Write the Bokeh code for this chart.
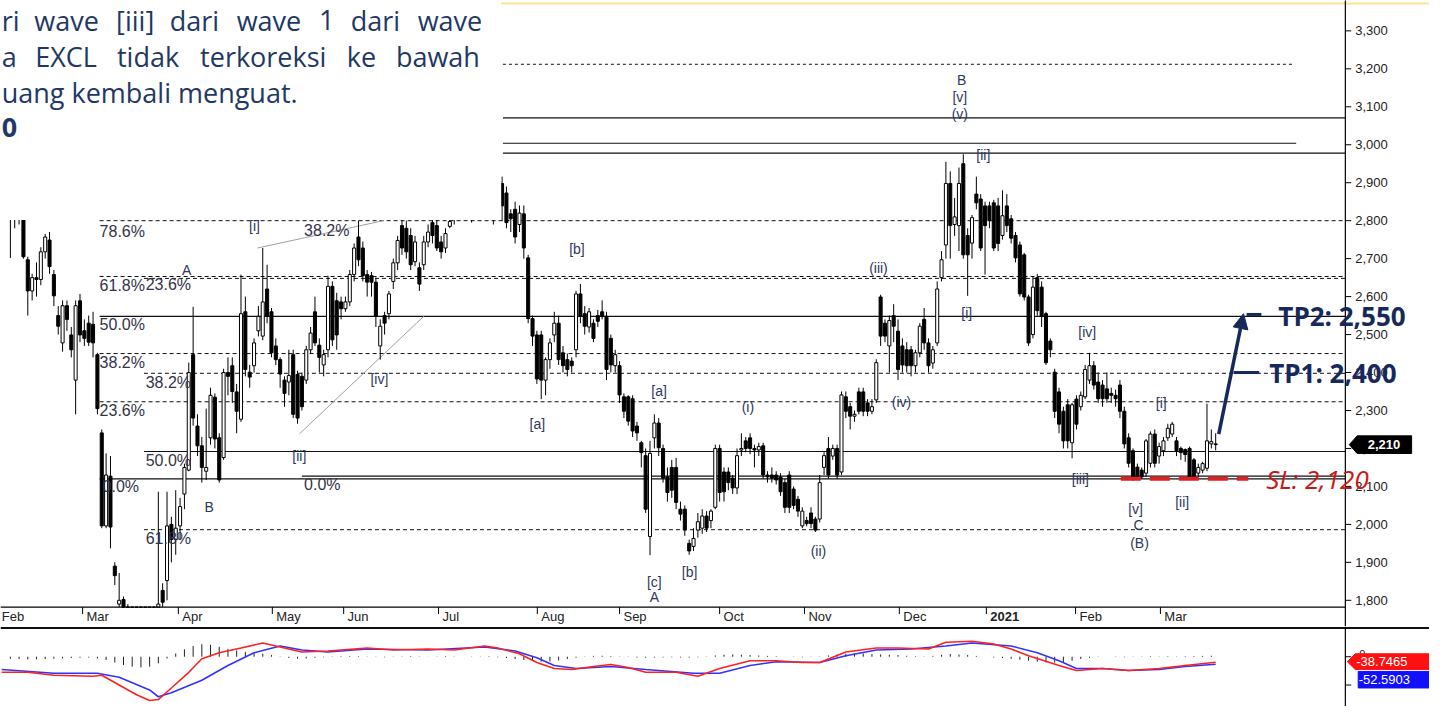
from bokeh.plotting import figure
from bokeh.layouts import column
from bokeh.models import Range1d, Arrow, NormalHead, ColumnDataSource
from bokeh.core.properties import value
from bokeh.embed import file_html
from bokeh.resources import INLINE

# ---------------- DATA (EXCL daily, Feb 2020 - Mar 2021) ----------------
opens = [2880,2860,2850,2900,2697,2615,2650,2645,2718,2749,
 2658,2550,2478,2576,2499,2380,2589,2510,2530,2527,
 2447,2241,1996,2127,1890,1790,1802,1770,1700,1620,
 1680,1620,1560,1680,1700,1826,1852,2000,1960,1996,
 2080,2143,2447,2259,2207,2140,2228,2335,2228,2176,
 2400,2418,2349,2277,2560,2401,2418,2510,2496,2620,
 2560,2470,2434,2380,2375,2447,2395,2390,2380,2460,
 2560,2472,2420,2460,2627,2589,2586,2568,2586,2658,
 2757,2728,2658,2655,2638,2470,2550,2555,2640,2689,
 2787,2780,2761,2692,2676,2684,2744,2795,2787,2744,
 2728,2785,2830,2860,2880,2930,2900,2840,2880,2980,
 3000,2950,2850,2898,2873,2818,2830,2790,2818,2702,
 2542,2499,2499,2380,2434,2499,2530,2452,2434,2430,
 2460,2607,2555,2520,2530,2550,2560,2548,2490,2418,
 2418,2336,2336,2331,2259,2215,2181,1968,2228,2267,
 2200,2125,2150,2150,2040,2040,1950,1942,1985,1990,
 2022,2010,2045,2200,2138,2138,2122,2096,2196,2220,
 2228,2200,2196,2207,2130,2130,2130,2125,2110,2130,
 2093,2066,1996,2010,2030,2014,2014,2150,2200,2180,
 2200,2138,2336,2310,2285,2349,2349,2320,2298,2328,
 2599,2530,2470,2550,2509,2470,2460,2460,2418,2452,
 2540,2478,2425,2478,2650,2736,2898,2790,2787,2950,
 2761,2741,2870,2857,2839,2839,2847,2839,2761,2839,
 2805,2761,2736,2710,2599,2500,2650,2625,2555,2483,
 2401,2349,2298,2315,2215,2330,2310,2336,2380,2418,
 2375,2367,2357,2345,2340,2367,2298,2228,2194,2151,
 2143,2135,2161,2238,2180,2194,2228,2238,2220,2200,
 2197,2200,2170,2135,2143,2148,2212,2212]
highs = [2930,2900,2880,2920,2705,2660,2690,2730,2765,2770,
 2670,2575,2590,2590,2520,2590,2607,2540,2550,2560,
 2452,2250,2187,2180,1900,1872,1810,1790,1720,1700,
 1720,1650,1700,1760,2086,1845,2086,2020,2090,2070,
 2160,2426,2573,2290,2230,2305,2360,2345,2240,2410,
 2440,2440,2370,2658,2600,2420,2490,2575,2728,2684,
 2570,2490,2440,2390,2460,2460,2405,2400,2470,2520,
 2600,2490,2460,2655,2640,2610,2600,2600,2670,2740,
 2800,2745,2670,2665,2650,2540,2560,2615,2700,2760,
 2820,2800,2780,2760,2690,2760,2790,2830,2810,2760,
 2780,2830,2880,2900,2950,2980,2920,2900,3000,3050,
 3040,2960,2920,2916,2890,2830,2850,2840,2840,2710,
 2550,2510,2510,2440,2490,2560,2550,2470,2450,2440,
 2615,2633,2575,2570,2540,2565,2590,2560,2500,2460,
 2430,2345,2340,2340,2270,2220,2200,2220,2290,2280,
 2210,2150,2170,2175,2060,2050,1960,1990,2030,2040,
 2035,2040,2210,2210,2150,2150,2130,2200,2240,2230,
 2240,2210,2215,2215,2140,2150,2140,2135,2120,2140,
 2100,2075,2045,2020,2045,2020,2130,2190,2230,2210,
 2210,2350,2350,2320,2300,2360,2360,2330,2330,2435,
 2605,2540,2550,2580,2540,2490,2480,2470,2460,2530,
 2570,2490,2470,2640,2720,2955,2930,2860,2940,2975,
 2780,2815,2916,2870,2850,2850,2855,2860,2880,2870,
 2815,2770,2745,2715,2605,2653,2660,2640,2560,2490,
 2410,2360,2310,2330,2320,2340,2350,2420,2452,2430,
 2400,2380,2400,2360,2355,2380,2310,2240,2200,2160,
 2150,2225,2245,2250,2215,2230,2265,2270,2230,2205,
 2200,2205,2175,2160,2165,2318,2250,2240]
lows = [2702,2780,2790,2700,2550,2590,2600,2630,2700,2660,
 2575,2500,2455,2510,2440,2290,2480,2470,2470,2440,
 2290,1990,1990,1937,1840,1770,1700,1680,1600,1560,
 1600,1520,1550,1640,1690,1770,1800,1900,1920,1960,
 2040,2140,2260,2180,2110,2117,2210,2200,2110,2170,
 2340,2320,2240,2270,2390,2360,2400,2495,2485,2530,
 2440,2420,2360,2310,2340,2280,2265,2300,2370,2450,
 2470,2400,2390,2440,2470,2460,2540,2560,2575,2640,
 2680,2640,2600,2600,2520,2434,2500,2540,2620,2670,
 2710,2700,2670,2680,2615,2670,2730,2740,2720,2700,
 2715,2780,2790,2820,2850,2880,2795,2820,2860,2940,
 2930,2790,2830,2800,2780,2770,2740,2770,2700,2530,
 2470,2370,2330,2340,2410,2480,2420,2400,2390,2400,
 2440,2530,2500,2505,2480,2520,2540,2380,2400,2400,
 2320,2280,2260,2230,2220,2150,2030,1919,2200,2180,
 2110,2060,2070,2040,2010,1970,1920,1930,1965,1975,
 1980,1990,2040,2060,2060,2090,2080,2080,2180,2190,
 2185,2150,2180,2120,2110,2110,2105,2075,2030,2030,
 2040,2020,1990,1995,1990,1980,2005,2130,2120,2170,
 2120,2130,2280,2250,2270,2290,2285,2285,2290,2320,
 2470,2480,2400,2480,2380,2400,2400,2390,2400,2440,
 2460,2400,2410,2470,2640,2700,2700,2760,2720,2700,
 2602,2700,2830,2720,2658,2780,2720,2720,2750,2770,
 2740,2690,2600,2590,2470,2490,2550,2520,2420,2440,
 2280,2240,2200,2200,2174,2250,2300,2330,2370,2355,
 2320,2310,2320,2320,2310,2280,2200,2150,2115,2120,
 2120,2125,2150,2150,2160,2180,2220,2230,2180,2170,
 2165,2120,2120,2125,2135,2140,2200,2195]
closes = [2850,2830,2820,2705,2615,2650,2645,2718,2757,2679,
 2602,2522,2576,2540,2460,2576,2499,2490,2480,2478,
 2305,1996,2130,1993,1865,1800,1775,1700,1620,1680,
 1620,1560,1680,1700,1790,1795,1996,1960,1990,2047,
 2150,2400,2280,2207,2150,2150,2340,2225,2117,2400,
 2390,2350,2298,2555,2408,2388,2478,2548,2586,2548,
 2452,2434,2396,2345,2392,2290,2280,2310,2460,2504,
 2478,2440,2447,2627,2486,2499,2568,2586,2658,2728,
 2697,2655,2638,2638,2548,2522,2530,2607,2689,2748,
 2728,2718,2684,2744,2633,2744,2770,2761,2728,2718,
 2766,2798,2860,2880,2930,2900,2840,2880,2980,3000,
 2950,2850,2880,2839,2795,2805,2757,2820,2728,2542,
 2496,2383,2380,2434,2478,2530,2434,2418,2408,2418,
 2607,2548,2522,2560,2490,2535,2548,2408,2420,2447,
 2341,2298,2272,2246,2241,2189,2040,2187,2267,2202,
 2122,2084,2090,2058,2027,1985,1930,1963,2007,2022,
 1990,2035,2200,2084,2086,2110,2096,2181,2200,2200,
 2200,2196,2205,2130,2125,2122,2117,2086,2045,2045,
 2050,2035,2035,2002,2002,1985,2110,2181,2130,2200,
 2130,2341,2298,2285,2290,2298,2298,2298,2310,2426,
 2496,2496,2537,2522,2408,2420,2418,2418,2452,2522,
 2478,2418,2460,2620,2697,2898,2787,2810,2898,2710,
 2710,2808,2847,2728,2787,2800,2728,2740,2813,2787,
 2754,2702,2607,2599,2478,2625,2563,2548,2426,2460,
 2298,2264,2220,2220,2315,2264,2340,2408,2418,2367,
 2331,2331,2331,2340,2331,2298,2212,2161,2125,2125,
 2125,2220,2238,2161,2205,2220,2253,2264,2194,2189,
 2184,2125,2125,2150,2160,2220,2218,2210]

# month ticks (trading-day index where each month begins) and labels
month_ticks = [-3.9, 16.6, 38.6, 60.2, 76.6, 98.4, 121.1, 140.0, 163.0, 182.5, 204.3, 224.3, 244.8, 264.3]
month_labels = ["Feb", "Mar", "Apr", "May", "Jun", "Jul", "Aug", "Sep", "Oct", "Nov", "Dec", "2021", "Feb", "Mar"]
price_ticks = list(range(1800, 3301, 100))

# MACD (red) and signal (blue)
macd_idx = [-2,4,10,19,21,25,29,32,34,37,41,44,48,53,58,60,67,73,82,88,96,102,109,112,117,121,125,129,
            134,138,142,146,153,158,163,170,176,182,186,192,199,204,211,215,221,226,230,234,241,245,251,257,264,270,277]
macd_vals = [-110,-110,-131,-138,-131,-200,-269,-310,-303,-221,-110,-14,28,62,97,83,34,41,62,48,55,48,76,62,21,-41,-83,-90,
             -69,-55,-76,-110,-110,-138,-83,-28,-28,-41,-41,34,62,62,55,103,110,90,55,7,-62,-97,-83,-97,-83,-62,-39]
signal_idx = [-2,10,20,25,32,34,37,44,50,56,62,67,73,82,96,109,116,121,125,130,138,146,157,163,170,176,186,
              192,199,207,215,221,230,236,241,245,251,257,264,270,277]
signal_vals = [-90,-117,-117,-145,-235,-283,-255,-166,-62,28,76,48,34,55,48,69,41,-7,-62,-83,-69,-90,-117,-117,-62,-35,-41,
               7,48,55,76,97,76,28,-28,-83,-83,-97,-90,-69,-53]
hist_vals = [-14,-16,-19,-18,-16,-14,-12,-9,-7,-6,
             -12,-23,-41,-59,-70,-76,-70,-47,
             -12,23,53,76,89,84,70,56,44,35,26,
             21,12,2,-9,-14,-12,-7,
             -4,2,4,5,4,2,-2,-4,-2,2,4,2,1,2,4,2,0,-2,2,4,
             -4,-9,-16,-23,-30,-35,-33,-26,-16,-7,
             2,6,7,5,2,-2,-6,-7,-6,-5,-4,-5,-6,-4,2,
             9,14,16,14,12,9,6,4,0,-2,-4,-2,
             2,9,16,21,23,23,19,16,14,12,7,4,2,6,14,
             19,16,12,6,0,-5,-9,-14,
             -21,-28,-35,-40,-42,-37,-28,-16,-7,-2,
             0,-2,-4,-2,2,4,2,4,2,4,5,6,7]
hist_idx = list(range(0, 2 * len(hist_vals), 2))

# horizontal levels (fibonacci / support-resistance)
solid_levels = [3071, 3004, 2978, 2548, 2192, 2127, 2120]
solid_from = [113.2, 113.2, 113.2, 20.5, 30.7, 67.0, 20.5]
solid_to = [306.8, 295.5, 306.8, 306.8, 306.8, 306.8, 306.8]
dashed_levels = [2800, 2653, 2648, 2450, 2398, 2323, 1986]
dashed_from = [20.5, 20.5, 30.7, 20.5, 30.7, 20.5, 30.7]
dotted_level = 3212

fib_text = ["78.6%", "61.8%", "50.0%", "38.2%", "23.6%", "0.0%", "23.6%", "38.2%", "50.0%", "61.8%", "38.2%", "0.0%"]
fib_x = [20.5, 20.5, 20.5, 20.5, 20.5, 21.2, 31.1, 31.1, 31.1, 31.1, 67.5, 67.5]
fib_y = [2772, 2630, 2527, 2426, 2300, 2099, 2633, 2375, 2169, 1963, 2774, 2104]

wave_text = ["[i]", "A", "B", "[ii]", "[iv]", "[b]", "[a]", "[a]", "[c]", "A", "[b]", "(i)", "(ii)", "(iii)", "(iv)",
             "[i]", "[ii]", "B", "[v]", "(v)", "[iv]", "[iii]", "[v]", "C", "(B)", "[i]", "[ii]"]
wave_x = [56.1, 40.5, 45.7, 66.4, 84.8, 130.2, 121.1, 149.1, 148.0, 148.0, 156.1, 169.5, 185.7, 199.5, 204.8,
          219.8, 223.6, 218.6, 218.2, 218.2, 247.5, 245.9, 258.6, 259.3, 259.5, 264.5, 269.3]
wave_y = [2787, 2669, 2045, 2179, 2383, 2725, 2264, 2352, 1849, 1808, 1875, 2310, 1929, 2676, 2323,
          2558, 2973, 3171, 3125, 3081, 2506, 2120, 2040, 1999, 1952, 2321, 2060]

last_price = 2210
tp1, tp2, sl = 2400, 2550, 2120
macd_last, signal_last = -38.7465, -52.5903

# ---------------- STYLE / GEOMETRY ----------------
FONT = "Liberation Sans"
NAVY = "#16295a"
TXT = "#1f3864"
X0, X1 = -2.27, 326.14      # canvas left / right in trading-day units
AX = 306.8                  # right price axis position
PX = 4.4                    # pixels per trading day (reference)
PY = 2.577                  # price units per pixel (reference)
Y_BOT = 1782                # price at the bottom of the price frame

xr = Range1d(X0, X1)
p = figure(width=1429, height=626, x_range=xr, y_range=Range1d(1731, 3380),
           output_backend="svg", toolbar_location=None, x_axis_location=None, y_axis_location=None,
           min_border=0, min_border_left=0, min_border_right=0, min_border_top=0, min_border_bottom=0)
p.grid.visible = False
p.outline_line_color = None
p.background_fill_color = "white"

# level lines
p.segment(x0=solid_from, y0=solid_levels, x1=solid_to, y1=solid_levels, line_color="#111111", line_width=1.2)
p.segment(x0=dashed_from, y0=dashed_levels, x1=[AX] * len(dashed_levels), y1=dashed_levels,
          line_color="#111111", line_width=1, line_dash="4 3")
p.segment(x0=[113.2], y0=[dotted_level], x1=[294.8], y1=[dotted_level], line_color="#111111",
          line_width=1, line_dash="3 3")

# trend lines
p.line([56.8, 85.7], [2728, 2800], line_color="#a0a0a0", line_width=1)
p.line([66.4, 95.0], [2238, 2548], line_color="#a0a0a0", line_width=1)

# candles (clipped at the bottom of the price frame)
idx = list(range(len(closes)))
lo_c = [max(v, Y_BOT) for v in lows]
hi_c = [max(v, Y_BOT) for v in highs]
p.segment(x0=idx, y0=hi_c, x1=idx, y1=lo_c, line_color="black", line_width=1)
def body(cond):
    sel = [i for i in idx if cond(i)]
    return ColumnDataSource(dict(
        x=sel,
        top=[max(max(opens[i], closes[i]), Y_BOT) for i in sel],
        bottom=[max(min(opens[i], closes[i]), Y_BOT) for i in sel]))
p.vbar(x="x", top="top", bottom="bottom", width=0.7, source=body(lambda i: closes[i] >= opens[i]),
       fill_color="white", line_color="black", line_width=1)
p.vbar(x="x", top="top", bottom="bottom", width=0.7, source=body(lambda i: closes[i] < opens[i]),
       fill_color="black", line_color="black", line_width=1)

# fib labels and wave labels
p.text(x=fib_x, y=fib_y, text=fib_text, text_font=value(FONT), text_font_size="16px",
       text_color="#33334a", text_baseline="middle", text_align="left")
p.text(x=wave_x, y=wave_y, text=wave_text, text_font=value(FONT), text_font_size="14px",
       text_color="#2e3760", text_baseline="middle", text_align="center")

# trade plan
p.segment(x0=[255.2], y0=[sl], x1=[284.5], y1=[sl], line_color="#e02020", line_width=4, line_dash="20 9")
p.segment(x0=[284.1, 281.1], y0=[tp2 + 3, tp1], x1=[287.5, 287.0], y1=[tp2 + 3, tp1], line_color=NAVY, line_width=3)

# white text box upper left + yellow top border
p.quad(left=[X0 - 2], right=[112.8], bottom=[2802], top=[3390], fill_color="white", line_color=None)
p.segment(x0=[112.8], y0=[3372], x1=[X1], y1=[3372], line_color="#ffe38a", line_width=2)

# overlay text (justified paragraph fragment)
ov_words = ["ri", "wave", "[iii]", "dari", "wave", "1", "dari", "wave",
            "a", "EXCL", "tidak", "terkoreksi", "ke", "bawah", "uang kembali menguat.", "0"]
ov_x = [-2.0, 5.5, 24.3, 36.6, 52.0, 70.9, 78.2, 93.6, -2.0, 5.7, 24.5, 43.6, 77.3, 88.6, -2.0, -2.0]
ov_y = [3328] * 8 + [3233] * 6 + [3138, 3045]
p.text(x=ov_x[:15], y=ov_y[:15], text=ov_words[:15], text_font=value("Open Sans"), text_font_size="27px",
       text_color=TXT, text_baseline="alphabetic", text_align="left")
p.text(x=ov_x[15:], y=ov_y[15:], text=ov_words[15:], text_font=value("Open Sans"), text_font_size="27px",
       text_font_style="bold", text_color=TXT, text_baseline="alphabetic", text_align="left")

# axes drawn by hand (x axis line, right price axis, ticks, labels)
p.segment(x0=[X0], y0=[Y_BOT], x1=[AX], y1=[Y_BOT], line_color="black", line_width=1.2)
p.segment(x0=[AX], y0=[1731], x1=[AX], y1=[3390], line_color="black", line_width=1.2)
p.segment(x0=[AX] * len(price_ticks), y0=price_ticks, x1=[AX + 6 / PX] * len(price_ticks), y1=price_ticks,
          line_color="black", line_width=1)
p.text(x=[AX + 10 / PX] * len(price_ticks), y=price_ticks, text=[f"{v:,}" for v in price_ticks],
       text_font=value(FONT), text_font_size="13px", text_color="#222222",
       text_baseline="middle", text_align="left")
p.segment(x0=month_ticks, y0=[Y_BOT] * len(month_ticks), x1=month_ticks, y1=[Y_BOT - 7 * PY] * len(month_ticks),
          line_color="black", line_width=1)
lab_x = [max(t + 0.9, X0 + 0.3) for t in month_ticks]
reg = [i for i, m in enumerate(month_labels) if m != "2021"]
p.text(x=[lab_x[i] for i in reg], y=[Y_BOT - 10 * PY] * len(reg), text=[month_labels[i] for i in reg],
       text_font=value(FONT), text_font_size="13px", text_color="#222222", text_baseline="middle", text_align="left")
yr = [i for i, m in enumerate(month_labels) if m == "2021"]
p.text(x=[lab_x[i] for i in yr], y=[Y_BOT - 10 * PY] * len(yr), text=[month_labels[i] for i in yr],
       text_font=value(FONT), text_font_size="13px", text_font_style="bold", text_color="#222222",
       text_baseline="middle", text_align="left")

# last price tag
p.patch(x=[AX + 4 / PX, AX + 12 / PX, AX + 67 / PX, AX + 67 / PX, AX + 12 / PX],
        y=[last_price, last_price + 9 * PY, last_price + 9 * PY, last_price - 9 * PY, last_price - 9 * PY],
        fill_color="black", line_color="black")
p.text(x=[AX + 39 / PX], y=[last_price], text=[f"{last_price:,}"], text_font=value(FONT), text_font_size="13px",
       text_font_style="bold", text_color="white", text_baseline="middle", text_align="center")

# TP / SL texts
p.text(x=[291.4, 289.3], y=[tp2, tp1], text=[f"TP2: {tp2:,}", f"TP1: {tp1:,}"], text_font=value("Open Sans"),
       text_font_size="26px", text_font_style="bold", text_color=NAVY, text_baseline="middle", text_align="left")
p.text(x=[288.6], y=[sl], text=[f"SL: {sl:,}"], text_font=value("Open Sans"), text_font_size="26px",
       text_font_style="italic", text_color="#d01515", text_baseline="middle", text_align="left")

p.add_layout(Arrow(end=NormalHead(size=15, fill_color=NAVY, line_color=NAVY),
                   x_start=277.7, y_start=2238, x_end=283.4, y_end=tp2 + 5,
                   line_color=NAVY, line_width=3.5))

# ---------------- MACD PANEL ----------------
p2 = figure(width=1429, height=80, x_range=xr, y_range=Range1d(-352, 214),
            output_backend="svg", toolbar_location=None, x_axis_location=None, y_axis_location=None,
            min_border=0, min_border_left=0, min_border_right=0, min_border_top=0, min_border_bottom=0)
p2.grid.visible = False
p2.outline_line_color = None

p2.segment(x0=hist_idx, y0=[0] * len(hist_idx), x1=hist_idx, y1=hist_vals, line_color="#222222", line_width=1)
p2.line(signal_idx, signal_vals, line_color="#3232ff", line_width=1.6)
p2.line(macd_idx, macd_vals, line_color="#ff2020", line_width=1.6)

p2.segment(x0=[X0], y0=[204], x1=[X1], y1=[204], line_color="#111111", line_width=2)
p2.segment(x0=[AX], y0=[-360], x1=[AX], y1=[214], line_color="black", line_width=1.2)
p2.segment(x0=[AX, AX], y0=[0, -200], x1=[AX + 6 / PX, AX + 6 / PX], y1=[0, -200], line_color="black", line_width=1)
p2.text(x=[AX + 14 / PX], y=[18], text=["0"], text_font=value(FONT), text_font_size="11px",
        text_color="#222222", text_baseline="middle", text_align="left")

p2.patch(x=[AX + 2 / PX, AX + 10 / PX, X1, X1, AX + 10 / PX], y=[-35, 21, 21, -90, -90],
         fill_color="#ff1010", line_color="#ff1010")
p2.text(x=[AX + 11 / PX], y=[-35], text=[f"{macd_last}"], text_font=value(FONT), text_font_size="13px",
        text_color="white", text_baseline="middle", text_align="left")
p2.quad(left=[AX + 13 / PX], right=[X1], top=[-104], bottom=[-221], fill_color="#1010ff", line_color="#1010ff")
p2.text(x=[AX + 13.5 / PX], y=[-162], text=[f"{signal_last}"], text_font=value(FONT), text_font_size="13px",
        text_color="white", text_baseline="middle", text_align="left")

layout = column(p, p2)
open("out.html", "w").write(file_html(layout, INLINE))
